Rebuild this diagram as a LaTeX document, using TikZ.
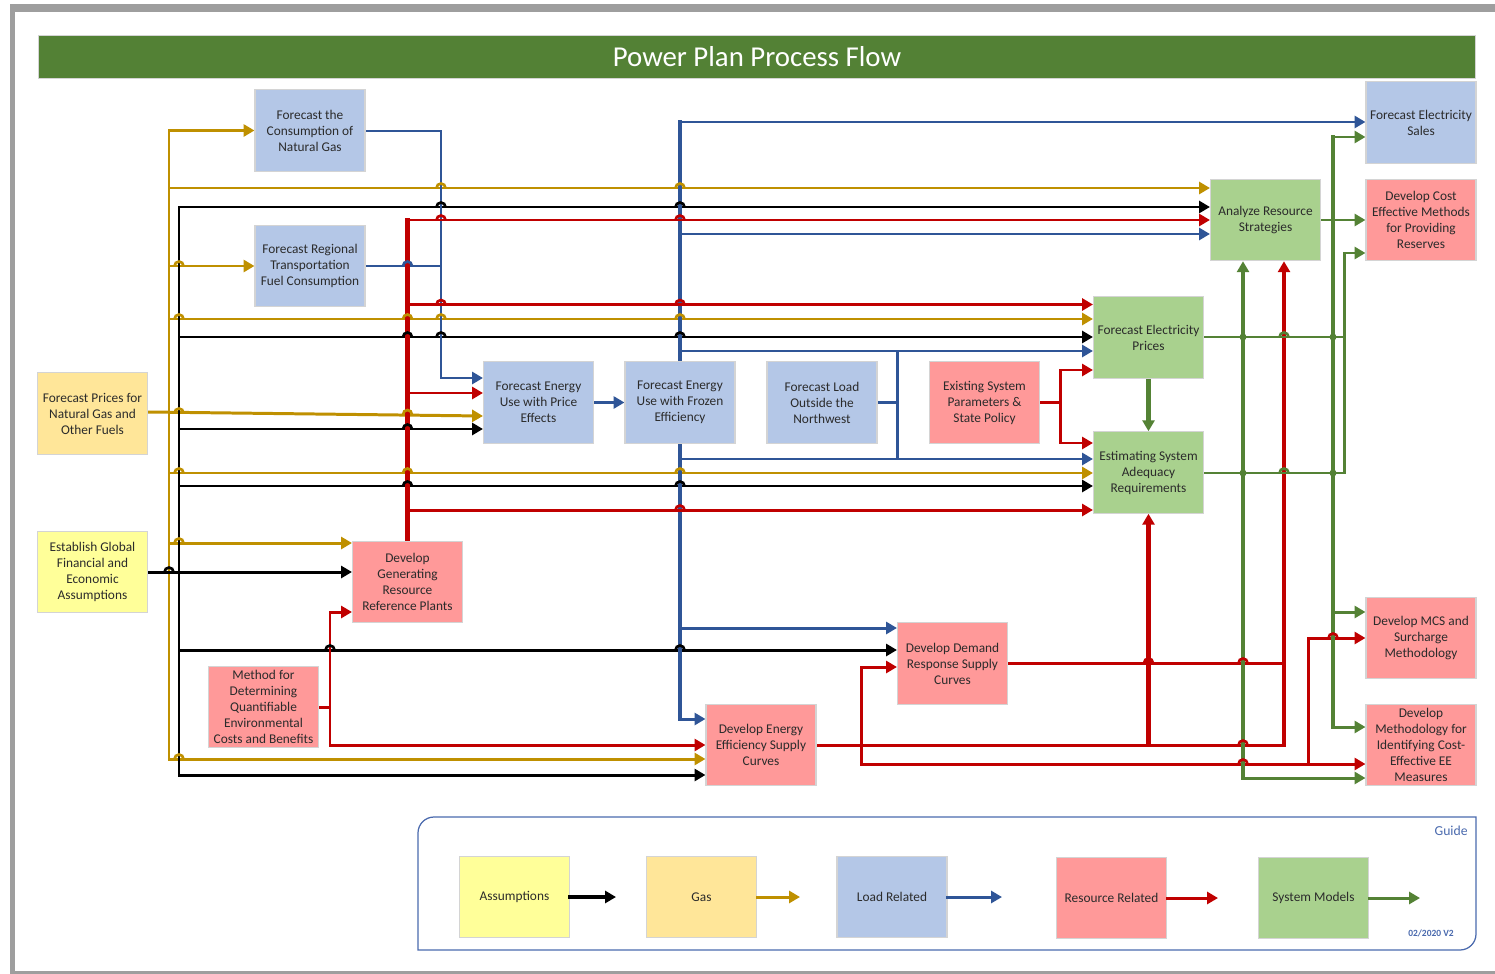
\documentclass[tikz,border=0pt]{standalone}
\usepackage{fontspec}
\setmainfont{Carlito}
\usetikzlibrary{arrows.meta}
\definecolor{titlegreen}{HTML}{538135}
\definecolor{ldfill}{HTML}{B4C7E7}
\definecolor{gsfill}{HTML}{FFE699}
\definecolor{asfill}{HTML}{FFFF99}
\definecolor{rsfill}{HTML}{FF9999}
\definecolor{smfill}{HTML}{A9D18E}
\definecolor{boxedge}{HTML}{D4D4D4}
\definecolor{txt}{HTML}{2B2B2B}
\definecolor{cA}{HTML}{000000}
\definecolor{cG}{HTML}{BF9000}
\definecolor{cL}{HTML}{2F5597}
\definecolor{cR}{HTML}{C00000}
\definecolor{cS}{HTML}{548235}
\definecolor{framegray}{HTML}{9E9E9E}
\definecolor{guideblue}{HTML}{4A6AAE}
\pgfdeclarelayer{bg}
\pgfsetlayers{bg,main}
\newcommand{\bxf}{\fontsize{7.6}{9.1}\selectfont}
\newcommand{\hopat}[3]{\draw[#3, line width=1.5pt, line cap=butt] (#1-4.5,#2) arc[start angle=180, end angle=0, radius=0.09cm];}
\tikzset{
  bx/.style={draw=boxedge, line width=0.6pt, minimum width=2.2cm, minimum height=1.63cm, inner sep=0pt, align=center, font=\bxf, text=txt},
  ld/.style={bx, fill=ldfill},
  gs/.style={bx, fill=gsfill},
  as/.style={bx, fill=asfill},
  rs/.style={bx, fill=rsfill},
  sm/.style={bx, fill=smfill},
  ln/.style={line width=1.7pt, line cap=rect},
  lt/.style={line width=2.4pt, line cap=rect},
  wA/.style={ln, draw=cA}, wG/.style={ln, draw=cG}, wL/.style={ln, draw=cL}, wR/.style={ln, draw=cR}, wS/.style={ln, draw=cS},
  wAt/.style={lt, draw=cA}, wLt/.style={lt, draw=cL}, wRt/.style={lt, draw=cR}, wSt/.style={lt, draw=cS},
  atip/.style={-{Triangle[length=6.2pt,width=6.8pt]}},
}
\begin{document}
\begin{tikzpicture}[x=0.02cm,y=-0.02cm]
\useasboundingbox (0,0) rectangle (1495,974);
% frame
\fill[framegray] (10,4) rectangle (1495,12);
\fill[framegray] (10,4) rectangle (15,974);
\fill[framegray] (10,971) rectangle (1495,974);
% title
\node[fill=titlegreen, draw=boxedge, line width=0.5pt, minimum width=28.76cm, minimum height=0.86cm, inner sep=0pt, text=white, font=\fontsize{16.4}{18}\selectfont] (title) at (757,56.5) {Power Plan Process Flow};
% boxes
\node[ld] (cons) at (310,130.5) {Forecast the\\Consumption of\\Natural Gas};
\node[ld] (regional) at (310,266) {Forecast Regional\\Transportation\\Fuel Consumption};
\node[gs] (prices) at (92.5,413.5) {Forecast Prices for\\Natural Gas and\\Other Fuels};
\node[as] (global) at (92.5,572) {Establish Global\\Financial and\\Economic\\Assumptions};
\node[rs] (devgen) at (407.5,582) {Develop\\Generating\\Resource\\Reference Plants};
\node[rs] (method) at (263.5,707) {Method for\\Determining\\Quantifiable\\Environmental\\Costs and Benefits};
\node[ld] (pricefx) at (538.5,402.5) {Forecast Energy\\Use with Price\\Effects};
\node[ld] (frozen) at (680,402.5) {Forecast Energy\\Use with Frozen\\Efficiency};
\node[ld] (loadout) at (822,402.5) {Forecast Load\\Outside the\\Northwest};
\node[rs] (existing) at (984.5,402.5) {Existing System\\Parameters \&\\State Policy};
\node[sm] (fep) at (1148.5,337.5) {Forecast Electricity\\Prices};
\node[sm] (est) at (1148.5,472.5) {Estimating System\\Adequacy\\Requirements};
\node[sm] (analyze) at (1265.5,220) {Analyze Resource\\Strategies};
\node[ld] (sales) at (1421,122.5) {Forecast Electricity\\Sales};
\node[rs] (devcost) at (1421,220) {Develop Cost\\Effective Methods\\for Providing\\Reserves};
\node[rs] (demand) at (952.5,663.5) {Develop Demand\\Response Supply\\Curves};
\node[rs] (ee) at (761,745) {Develop Energy\\Efficiency Supply\\Curves};
\node[rs] (mcs) at (1421,638) {Develop MCS and\\Surcharge\\Methodology};
\node[rs] (methee) at (1421,745) {Develop\\Methodology for\\Identifying Cost-\\Effective EE\\Measures};
% legend
\draw[guideblue, line width=0.7pt] (418,880) [rounded corners=0.32cm] -- (418,817) -- (700,817) [sharp corners] -- (1476,817) -- (1476,880) [rounded corners=0.32cm] -- (1476,950) -- (1000,950) [sharp corners] -- (418,950) -- cycle;
\node[text=guideblue, font=\fontsize{7.8}{9}\selectfont, anchor=east, inner sep=0pt] (guide) at (1468,831) {Guide};
\node[text=guideblue, font=\fontsize{5.4}{6}\selectfont\bfseries, inner sep=0pt] (ver) at (1431,933) {02/2020 V2};
\node[as] (lA) at (514.5,897) {Assumptions};
\node[gs] (lG) at (701.5,897) {Gas};
\node[ld] (lL) at (892,897) {Load Related};
\node[rs] (lR) at (1111.5,898) {Resource Related};
\node[sm] (lS) at (1313.5,898) {System Models};
\coordinate (eA) at (616,897);
\coordinate (eG) at (800,897);
\coordinate (eL) at (1002,897);
\coordinate (eR) at (1218,898);
\coordinate (eS) at (1420,898);
\draw[wAt, atip] (lA.east) -- (eA);
\draw[wG, atip] (lG.east) -- (eG);
\draw[wL, atip] (lL.east) -- (eL);
\draw[wR, atip] (lR.east) -- (eR);
\draw[wS, atip] (lS.east) -- (eS);

\begin{pgfonlayer}{bg}
\fill[white] (0,0) rectangle (1495,974);
% ---- gold
\draw[wG,atip] (169,450) |- (cons.west);
\draw[wG,atip] (169,450) |- (ee.west |- 0,759);
\draw[wG,atip] (169,188) -- (analyze.west |- 0,188);
\draw[wG,atip] (169,266) -- (regional.west);
\draw[wG,atip] (169,319) -- (fep.west |- 0,319);
\draw[wG,atip] (prices.east |- 0,412) -- (pricefx.west |- 0,416);
\draw[wG,atip] (169,473) -- (est.west |- 0,473);
\draw[wG,atip] (169,543) -- (devgen.west |- 0,543);
% ---- black
\draw[wA,atip] (global.east) -- (devgen.west |- 0,572);
\draw[wA,atip] (179,490) |- (analyze.west |- 0,207);
\draw[wA,atip] (179,490) |- (ee.west |- 0,775);
\draw[wA,atip] (179,337) -- (fep.west |- 0,337);
\draw[wA,atip] (179,429) -- (pricefx.west |- 0,429);
\draw[wA,atip] (179,486) -- (est.west |- 0,486);
\draw[wA,atip] (179,650) -- (demand.west |- 0,650);
% ---- blue
\draw[wL,atip] (cons.east |- 0,131) -| (441,300) |- (pricefx.west |- 0,378);
\draw[wL] (regional.east) -- (441,266);
\draw[wL,atip] (pricefx.east) -- (frozen.west);
\draw[wLt] (frozen.north) -- (680,122);
\draw[wL,atip] (680,122) -- (sales.west |- 0,122);
\draw[wL,atip] (680,234) -- (analyze.west |- 0,234);
\draw[wL,atip] (680,351) -- (fep.west |- 0,351);
\draw[wLt] (frozen.south) -- (680,719);
\draw[wL,atip] (680,719) -- (ee.west |- 0,719);
\draw[wL,atip] (680,459) -- (est.west |- 0,459);
\draw[wL,atip] (680,628) -- (demand.west |- 0,628);
\draw[wL] (loadout.east) -- (897,402.5);
\draw[wL] (897,351) -- (897,459);
% ---- red
\draw[wRt] (devgen.north) -- (407.5,220);
\draw[wR,atip] (407.5,220) -- (analyze.west |- 0,220);
\draw[wR,atip] (407.5,304.5) -- (fep.west |- 0,304.5);
\draw[wR,atip] (407.5,393) -- (pricefx.west |- 0,393);
\draw[wR,atip] (407.5,510) -- (est.west |- 0,510);
\draw[wR] (method.east) -- (330,707);
\draw[wR,atip] (330,707) |- (devgen.west |- 0,612);
\draw[wR,atip] (330,707) |- (ee.west |- 0,745);
\draw[wR] (existing.east) -- (1060,402.5);
\draw[wR,atip] (1060,402.5) |- (fep.west |- 0,370);
\draw[wR,atip] (1060,402.5) |- (est.west |- 0,443);
\draw[wR] (ee.east) -- (1284,745);
\draw[wRt,atip] (1284,745) -- (analyze.south -| 1284,0);
\draw[wRt,atip] (1148.5,745) -- (est.south);
\draw[wR] (demand.east |- 0,663) -- (1284,663);
\draw[wR,atip] (861,745) |- (demand.west |- 0,667);
\draw[wR,atip] (861,745) |- (methee.west |- 0,764);
\draw[wR,atip] (1308,764) |- (mcs.west |- 0,638);
% ---- green
\draw[wSt,atip] (fep.south) -- (est.north);
\draw[wS] (fep.east |- 0,337) -- (1344,337);
\draw[wS] (est.east |- 0,473) -- (1344,473);
\draw[wS,atip] (1344,473) |- (devcost.west |- 0,253);
\draw[wS,atip] (analyze.east) -- (devcost.west);
\draw[wSt] (1333,137) -- (1333,727);
\draw[wS,atip] (1333,137) -- (sales.west |- 0,137);
\draw[wS,atip] (1333,612) -- (mcs.west |- 0,612);
\draw[wS,atip] (1333,727) -- (methee.west |- 0,727);
\draw[wSt,atip] (1243,778) -- (analyze.south -| 1243,0);
\draw[wS,atip] (1243,778) -- (methee.west |- 0,778);
% junction dots
\foreach \x/\y in {1243/337, 1333/337, 1243/473, 1333/473} {\fill[cS] (\x,\y) circle[radius=0.07cm];}
% ---- hops
\foreach \x/\y in {441/188, 680/188, 179/266, 179/319, 407.5/319, 441/319, 680/319, 179/413, 407.5/414.5, 179/473, 407.5/473, 680/473, 179/543, 179/759} {\hopat{\x}{\y}{cG}}
\foreach \x/\y in {169/572, 441/207, 680/207, 407.5/337, 441/337, 680/337, 407.5/429, 407.5/486, 680/486, 330/650, 680/650} {\hopat{\x}{\y}{cA}}
\foreach \x/\y in {441/220, 680/220, 441/304.5, 680/304.5, 680/510, 1243/745, 1243/764, 1333/638, 1148.5/663, 1243/663} {\hopat{\x}{\y}{cR}}
\foreach \x/\y in {407.5/266} {\hopat{\x}{\y}{cL}}
\foreach \x/\y in {1284/337, 1284/473} {\hopat{\x}{\y}{cS}}
\end{pgfonlayer}
\end{tikzpicture}
\end{document}
